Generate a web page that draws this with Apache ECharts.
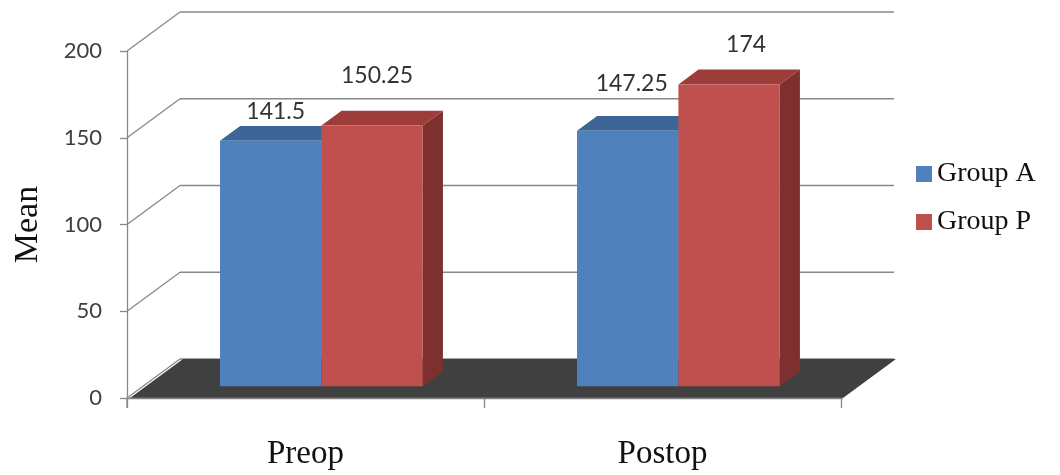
<!DOCTYPE html>
<html>
<head>
<meta charset="utf-8">
<script src="https://cdn.jsdelivr.net/npm/echarts@6/dist/echarts.min.js"></script>
<style>
  html, body { margin: 0; padding: 0; background: #ffffff; }
  #chart { width: 1060px; height: 475px; }
</style>
</head>
<body>
<div id="chart"></div>
<script>
// ---- data ----
const categories = ['Preop', 'Postop'];
const groupNames = ['Group A', 'Group P'];
const groupA = [141.5, 147.25];
const groupP = [150.25, 174];
const yTicks = [0, 50, 100, 150, 200];

// ---- 3-D box layout (pixels / fractions) ----
const DEPTH = [53, -39];   // offset from the front plane to the back wall
const BAR_FRONT = 0.30;    // depth at which the bars' front faces sit
const BAR_DEPTH = 0.38;    // bar thickness as a fraction of the box depth
const BAR_RATIO = 0.284;   // bar width relative to a category band
// value labels are nudged from the centre of each bar's front top edge
const labelNudge = {
  'Group A': [[5, -29], [4, -47]],
  'Group P': [[5, -50], [17, -40]]
};
const palette = {
  'Group A': { front: '#4F81BD', top: '#3D6697', side: '#2F4F75' },
  'Group P': { front: '#C0504D', top: '#9C3D3A', side: '#7D302E' }
};

const GRID_LINE = '#888888';
const LABEL_FONT = 'Lato, "Open Sans", sans-serif';
const SERIF_FONT = '"Liberation Serif", "DejaVu Serif", serif';

const chart = echarts.init(document.getElementById('chart'), null, { renderer: 'canvas' });

// side-wall diagonals and back-wall gridlines, one per y tick
function renderWalls(params, api) {
  const cs = params.coordSys;
  const y = api.coord([0, api.value(1)])[1];
  const l = cs.x, r = cs.x + cs.width;
  const style = { stroke: GRID_LINE, lineWidth: 1.3 };
  return {
    type: 'group',
    children: [
      { type: 'line', shape: { x1: l, y1: y, x2: l + DEPTH[0], y2: y + DEPTH[1] }, style: style },
      { type: 'line', shape: { x1: l + DEPTH[0], y1: y + DEPTH[1], x2: r + DEPTH[0], y2: y + DEPTH[1] }, style: style }
    ]
  };
}

// dark floor of the box at value 0, and the y axis line running past it
function renderFloor(params, api) {
  const cs = params.coordSys;
  const y = api.coord([0, 0])[1];
  const l = cs.x + 3, r = cs.x + cs.width + 2;
  return {
    type: 'group',
    children: [
      {
        type: 'polygon',
        shape: { points: [[l, y], [r, y], [r + DEPTH[0], y + DEPTH[1]], [l + DEPTH[0], y + DEPTH[1]]] },
        style: { fill: '#404040' }
      },
      { type: 'line', shape: { x1: l, y1: y, x2: r, y2: y }, style: { stroke: '#7a7a7a', lineWidth: 1 } },
      { type: 'line', shape: { x1: cs.x, y1: y, x2: cs.x, y2: y + 10 }, style: { stroke: GRID_LINE, lineWidth: 1.3 } }
    ]
  };
}

// a 3-D bar: front rectangle, top and right-side faces, plus its value label
function makeBarRenderer(name, slot) {
  const fill = palette[name];
  return function (params, api) {
    const i = api.value(0);
    const v = api.value(1);
    const top = api.coord([i, v]);
    const base = api.coord([i, 0]);
    const band = api.size([1, 0])[0];
    const w = band * BAR_RATIO;
    const fx = DEPTH[0] * BAR_FRONT, fy = DEPTH[1] * BAR_FRONT;
    const dx = DEPTH[0] * BAR_DEPTH, dy = DEPTH[1] * BAR_DEPTH;
    const x0 = top[0] + slot * w + fx, x1 = x0 + w;
    const yT = top[1] + fy, yB = base[1] + fy;
    const nudge = labelNudge[name][params.dataIndex];
    return {
      type: 'group',
      children: [
        {
          type: 'polygon',
          shape: { points: [[x1, yT], [x1 + dx, yT + dy], [x1 + dx, yB + dy], [x1, yB]] },
          style: { fill: fill.side }
        },
        {
          type: 'polygon',
          shape: { points: [[x0, yT], [x0 + dx, yT + dy], [x1 + dx, yT + dy], [x1, yT]] },
          style: { fill: fill.top }
        },
        {
          type: 'rect',
          shape: { x: x0, y: yT, width: w, height: yB - yT },
          style: { fill: fill.front }
        },
        {
          type: 'text',
          x: (x0 + x1) / 2 + nudge[0],
          y: yT + nudge[1],
          style: {
            text: String(v),
            fill: '#333333',
            font: '23px ' + LABEL_FONT,
            align: 'center',
            verticalAlign: 'middle'
          }
        }
      ]
    };
  };
}

const option = {
  backgroundColor: '#ffffff',
  animation: false,
  grid: { left: 127, right: 219, top: 51, bottom: 77 },
  legend: {
    orient: 'vertical',
    left: 916,
    top: 160,
    padding: 0,
    data: groupNames,
    icon: 'rect',
    itemWidth: 16,
    itemHeight: 16,
    itemGap: 20,
    textStyle: { fontFamily: SERIF_FONT, fontSize: 28, color: '#111111', lineHeight: 28 }
  },
  xAxis: {
    type: 'category',
    data: categories,
    axisLine: { show: true, lineStyle: { color: GRID_LINE, width: 1.3 } },
    axisTick: { show: true, length: 10, alignWithLabel: false, lineStyle: { color: GRID_LINE, width: 1.3 } },
    axisLabel: { margin: 40, fontFamily: SERIF_FONT, fontSize: 33, color: '#111111' },
    splitLine: { show: false }
  },
  yAxis: {
    type: 'value',
    min: 0,
    max: 200,
    interval: 50,
    name: 'Mean',
    nameLocation: 'middle',
    nameRotate: 90,
    nameGap: 82,
    nameTextStyle: { fontFamily: SERIF_FONT, fontSize: 34, color: '#111111' },
    axisLine: { show: true, lineStyle: { color: GRID_LINE, width: 1.3 } },
    axisTick: { show: true, length: 7, lineStyle: { color: GRID_LINE, width: 1.3 } },
    axisLabel: { margin: 25, fontFamily: LABEL_FONT, fontSize: 22, color: '#404040' },
    splitLine: { show: false }
  },
  series: [
    {
      name: 'walls',
      type: 'custom',
      renderItem: renderWalls,
      data: yTicks.map(t => [0, t]),
      silent: true,
      z: 1
    },
    {
      name: 'floor',
      type: 'custom',
      renderItem: renderFloor,
      data: [[0, 0]],
      silent: true,
      z: 2
    },
    {
      name: 'Group A',
      type: 'custom',
      renderItem: makeBarRenderer('Group A', -1),
      itemStyle: { color: palette['Group A'].front },
      data: categories.map((c, i) => [i, groupA[i]]),
      z: 3
    },
    {
      name: 'Group P',
      type: 'custom',
      renderItem: makeBarRenderer('Group P', 0),
      itemStyle: { color: palette['Group P'].front },
      data: categories.map((c, i) => [i, groupP[i]]),
      z: 3
    }
  ]
};

chart.setOption(option);
</script>
</body>
</html>
